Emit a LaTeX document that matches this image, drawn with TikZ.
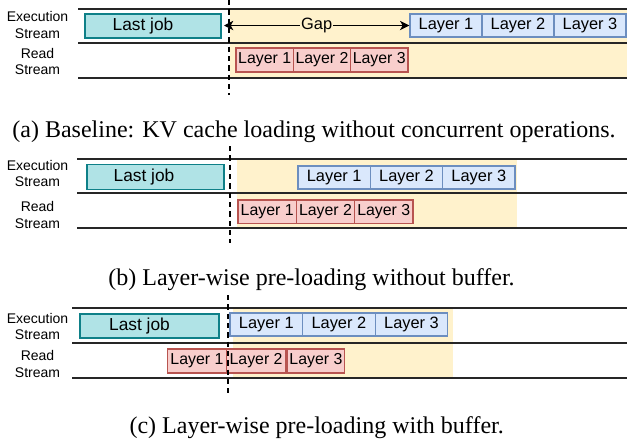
\documentclass[tikz,border=0pt]{standalone}
\usepackage{fontspec}
\setmainfont{Liberation Serif}
\setsansfont{Liberation Sans}
\usetikzlibrary{arrows.meta}
\definecolor{ybg}{HTML}{FFF2CC}
\definecolor{tealf}{HTML}{B0E3E6}
\definecolor{tealb}{HTML}{0E8088}
\definecolor{bluef}{HTML}{DAE8FC}
\definecolor{blueb}{HTML}{6C8EBF}
\definecolor{redf}{HTML}{F8CECC}
\definecolor{redb}{HTML}{B85450}
\begin{document}
\begin{tikzpicture}[x=0.75pt,y=-0.75pt,
  stream/.style={line width=1.1pt, draw=black!85},
  lbl/.style={font=\sffamily\fontsize{10.5}{12.5}\selectfont, align=center, inner sep=0},
  jobbox/.style={draw=tealb, fill=tealf, line width=1pt, inner sep=0},
  jobtxt/.style={font=\sffamily\fontsize{13}{15}\selectfont, inner sep=0},
  bluebox/.style={draw=blueb, fill=bluef, line width=1pt, inner sep=0, font=\sffamily\fontsize{12.3}{14}\selectfont},
  redbox/.style={draw=redb, fill=redf, line width=1pt, inner sep=0, font=\sffamily\fontsize{11.9}{14}\selectfont},
  cut/.style={line width=1.1pt, dash pattern=on 4pt off 3pt},
  caption/.style={font=\fontsize{18}{21}\selectfont, anchor=base, inner sep=0},
  gaparr/.style={line width=0.9pt, {Stealth[length=7pt,width=7pt,inset=2pt]}-{Stealth[length=7pt,width=7pt,inset=2pt]}}
]
\useasboundingbox (0,0) rectangle (627,446);

% ===================== (a) =====================
\fill[ybg] (230,9) rectangle (627,78);
\coordinate (a-t0) at (78,9);  \coordinate (a-t1) at (627,9);
\coordinate (a-m0) at (78,43); \coordinate (a-m1) at (627,43);
\coordinate (a-b0) at (78,78); \coordinate (a-b1) at (627,78);
\draw[stream] (a-t0) -- (a-t1);
\draw[stream] (a-m0) -- (a-m1);
\draw[stream] (a-b0) -- (a-b1);
\node[lbl] (a-exec) at (37.5,25) {Execution\\Stream};
\node[lbl] (a-read) at (37.5,61.5) {Read\\Stream};
\node[jobbox, minimum width=102pt, minimum height=18pt] (a-job) at (153,26) {};
\node[jobtxt] (a-jobt) at (143,26) {Last job};
\node[bluebox, minimum width=54pt, minimum height=17.25pt] (a-e1) at (446,25.5) {Layer 1};
\node[bluebox, minimum width=54pt, minimum height=17.25pt] (a-e2) at (518,25.5) {Layer 2};
\node[bluebox, minimum width=54pt, minimum height=17.25pt] (a-e3) at (590,25.5) {Layer 3};
\node[redbox, minimum width=43pt, minimum height=18pt] (a-r1) at (264.7,60) {Layer 1};
\node[redbox, minimum width=43pt, minimum height=18pt] (a-r2) at (322,60) {Layer 2};
\node[redbox, minimum width=43pt, minimum height=18pt] (a-r3) at (379.3,60) {Layer 3};
\coordinate (a-gapl) at (224,25.5);
\draw[gaparr] (a-gapl) -- (a-e1.west)
  node[midway, fill=ybg, inner sep=0.6pt, font=\sffamily\fontsize{12.3}{14}\selectfont] (a-gap) {Gap};
\coordinate (a-c0) at (229,0); \coordinate (a-c1) at (229,95);
\draw[cut] (a-c0) -- (a-c1);
\node[caption] (a-cap) at (314,137) {(a) Baseline: KV cache loading without concurrent operations.};

% ===================== (b) =====================
\fill[ybg] (237,159) rectangle (517,228);
\coordinate (b-t0) at (77,159);  \coordinate (b-t1) at (627,159);
\coordinate (b-m0) at (77,193); \coordinate (b-m1) at (627,193);
\coordinate (b-b0) at (77,228); \coordinate (b-b1) at (627,228);
\draw[stream] (b-t0) -- (b-t1);
\draw[stream] (b-m0) -- (b-m1);
\draw[stream] (b-b0) -- (b-b1);
\node[lbl] (b-exec) at (37.5,173.5) {Execution\\Stream};
\node[lbl] (b-read) at (37.5,215) {Read\\Stream};
\node[jobbox, minimum width=102.75pt, minimum height=18.75pt] (b-job) at (155.5,177) {};
\node[jobtxt] (b-jobt) at (144,177) {Last job};
\node[bluebox, minimum width=54.25pt, minimum height=17.25pt] (b-e1) at (334.2,177.5) {Layer 1};
\node[bluebox, minimum width=54.25pt, minimum height=17.25pt] (b-e2) at (406.5,177.5) {Layer 2};
\node[bluebox, minimum width=54.25pt, minimum height=17.25pt] (b-e3) at (478.8,177.5) {Layer 3};
\node[redbox, minimum width=43.75pt, minimum height=17.5pt] (b-r1) at (267.2,211.5) {Layer 1};
\node[redbox, minimum width=43.75pt, minimum height=17.5pt] (b-r2) at (325.5,211.5) {Layer 2};
\node[redbox, minimum width=43.75pt, minimum height=17.5pt] (b-r3) at (383.8,211.5) {Layer 3};
\coordinate (b-c0) at (230,146); \coordinate (b-c1) at (230,243);
\draw[cut] (b-c0) -- (b-c1);
\node[caption] (b-cap) at (311.5,285) {(b) Layer-wise pre-loading without buffer.};

% ===================== (c) =====================
\fill[ybg] (233,308) rectangle (453,378);
\coordinate (c-t0) at (72,308);  \coordinate (c-t1) at (627,308);
\coordinate (c-m0) at (72,343); \coordinate (c-m1) at (627,343);
\coordinate (c-b0) at (72,378); \coordinate (c-b1) at (627,378);
\draw[stream] (c-t0) -- (c-t1);
\draw[stream] (c-m0) -- (c-m1);
\draw[stream] (c-b0) -- (c-b1);
\node[lbl] (c-exec) at (37.5,326.5) {Execution\\Stream};
\node[lbl] (c-read) at (37.5,364) {Read\\Stream};
\node[jobbox, minimum width=104.25pt, minimum height=18pt] (c-job) at (149.5,326) {};
\node[jobtxt] (c-jobt) at (139.5,326) {Last job};
\node[bluebox, minimum width=54.4pt, minimum height=17.25pt] (c-e1) at (266.3,324.5) {Layer 1};
\node[bluebox, minimum width=54.4pt, minimum height=17.25pt] (c-e2) at (338.9,324.5) {Layer 2};
\node[bluebox, minimum width=54.4pt, minimum height=17.25pt] (c-e3) at (411.5,324.5) {Layer 3};
\node[redbox, minimum width=44.4pt, minimum height=18pt] (c-r1) at (196.9,361) {Layer 1};
\node[redbox, minimum width=44.4pt, minimum height=18pt] (c-r2) at (256.1,361) {Layer 2};
\node[redbox, minimum width=43.3pt, minimum height=18pt] (c-r3) at (315.9,361) {Layer 3};
\coordinate (c-c0) at (228,295); \coordinate (c-c1) at (228,393);
\draw[cut] (c-c0) -- (c-c1);
\node[caption] (c-cap) at (316.7,433) {(c) Layer-wise pre-loading with buffer.};
\end{tikzpicture}
\end{document}
